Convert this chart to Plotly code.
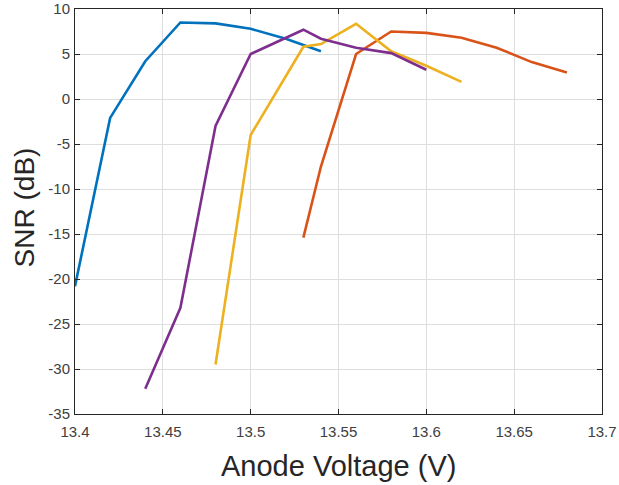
import plotly.graph_objects as go

# Data
blue_x = [13.40, 13.42, 13.44, 13.46, 13.48, 13.50, 13.52, 13.54]
blue_y = [-20.8, -2.1, 4.2, 8.5, 8.4, 7.8, 6.7, 5.3]

red_x = [13.53, 13.54, 13.56, 13.58, 13.60, 13.62, 13.64, 13.66, 13.68]
red_y = [-15.4, -7.5, 5.0, 7.5, 7.35, 6.8, 5.7, 4.1, 2.95]

yellow_x = [13.48, 13.50, 13.53, 13.54, 13.56, 13.58, 13.60, 13.62]
yellow_y = [-29.5, -4.0, 5.8, 6.1, 8.35, 5.3, 3.7, 1.9]

purple_x = [13.44, 13.46, 13.48, 13.50, 13.53, 13.54, 13.56, 13.58, 13.60]
purple_y = [-32.2, -23.2, -3.0, 5.0, 7.7, 6.7, 5.7, 5.1, 3.25]

x_ticks = [13.4, 13.45, 13.5, 13.55, 13.6, 13.65, 13.7]
x_tick_labels = ["13.4", "13.45", "13.5", "13.55", "13.6", "13.65", "13.7"]
y_ticks = [10, 5, 0, -5, -10, -15, -20, -25, -30, -35]
y_tick_labels = ["10", "5", "0", "-5", "-10", "-15", "-20", "-25", "-30", "-35"]

series = [
    (blue_x, blue_y, "#0072BD"),
    (red_x, red_y, "#D95319"),
    (yellow_x, yellow_y, "#EDB120"),
    (purple_x, purple_y, "#7E2F8E"),
]

fig = go.Figure()
for xs, ys, col in series:
    fig.add_trace(go.Scatter(x=xs, y=ys, mode="lines",
                             line=dict(color=col, width=2.6),
                             showlegend=False))

axis_common = dict(
    showgrid=True, gridcolor="#dedede", gridwidth=1,
    showline=True, linecolor="#262626", linewidth=1, mirror="ticks",
    ticks="inside", ticklen=5, tickcolor="#262626",
    tickfont=dict(family="Liberation Sans, Arial, sans-serif", size=15, color="#404040"),
    zeroline=False, automargin=False,
)

fig.update_xaxes(range=[13.4, 13.7], tickvals=x_ticks, ticktext=x_tick_labels,
                 ticklabelstandoff=4, **axis_common)
fig.update_yaxes(range=[-35, 10], tickvals=y_ticks, ticktext=y_tick_labels,
                 ticklabelstandoff=1, **axis_common)

fig.add_annotation(text="Anode Voltage (V)", xref="paper", yref="paper",
                   x=0.5, y=-0.128, xanchor="center", yanchor="middle", showarrow=False,
                   font=dict(family="Liberation Sans, Arial, sans-serif", size=29, color="#262626"))
fig.add_annotation(text="SNR (dB)", xref="paper", yref="paper", textangle=-90,
                   x=-0.095, y=0.51, xanchor="center", yanchor="middle", showarrow=False,
                   font=dict(family="Liberation Sans, Arial, sans-serif", size=28, color="#262626"))

fig.update_layout(
    width=619, height=485,
    margin=dict(l=75, r=17, t=9, b=71),
    paper_bgcolor="white", plot_bgcolor="white",
)

fig.write_html("out.html")
